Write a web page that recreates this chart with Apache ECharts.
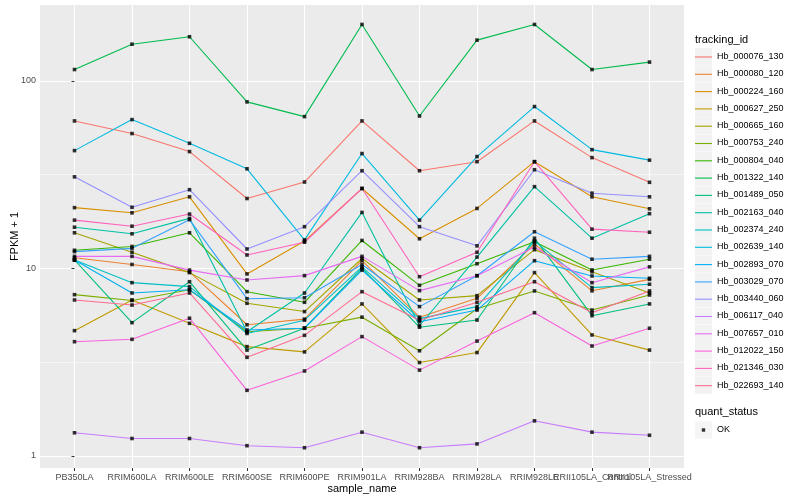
<!DOCTYPE html>
<html><head><meta charset="utf-8">
<script src="https://cdn.jsdelivr.net/npm/echarts@6/dist/echarts.min.js"></script>
<style>html,body{margin:0;padding:0;background:#fff}#c{width:800px;height:500px}</style>
</head><body><div id="c"></div>
<script>
const samples = ['PB350LA','RRIM600LA','RRIM600LE','RRIM600SE','RRIM600PE','RRIM901LA','RRIM928BA','RRIM928LA','RRIM928LE','RRII105LA_Control','RRII105LA_Stressed'];
const trackingIds = ['Hb_000076_130','Hb_000080_120','Hb_000224_160','Hb_000627_250','Hb_000665_160','Hb_000753_240','Hb_000804_040','Hb_001322_140','Hb_001489_050','Hb_002163_040','Hb_002374_240','Hb_002639_140','Hb_002893_070','Hb_003029_070','Hb_003440_060','Hb_006117_040','Hb_007657_010','Hb_012022_150','Hb_021346_030','Hb_022693_140'];

const hb_000076_130 = [61.2, 52.4, 42, 23.6, 28.9, 61.2, 33.2, 37.1, 61.2, 39, 28.8];
const hb_000080_120 = [11.4, 10.5, 9.6, 5.01, 5.37, 11.0, 5.5, 6.93, 13.5, 7.6, 8.75];
const hb_000224_160 = [21.1, 19.8, 24.1, 9.35, 14.0, 26.7, 14.4, 20.9, 37.1, 24.1, 20.8];
const hb_000627_250 = [4.66, 6.79, 5.1, 3.83, 3.59, 6.47, 3.15, 3.56, 9.5, 4.42, 3.67];
const hb_000665_160 = [15.5, 12.2, 9.5, 6.52, 5.89, 11.3, 6.79, 7.16, 12.6, 9.6, 7.4];
const hb_000753_240 = [7.25, 6.75, 7.7, 4.6, 4.8, 5.5, 3.64, 6.1, 7.59, 6.0, 7.22];
const hb_000804_040 = [12.5, 13.1, 15.5, 7.52, 6.6, 14.1, 8.13, 10.6, 13.9, 9.82, 11.2];
const hb_001322_140 = [115, 157, 172, 77.3, 64.5, 200, 65, 165, 200, 115, 126];
const hb_001489_050 = [11.1, 5.14, 8.5, 3.67, 4.8, 10.0, 4.86, 5.31, 14.5, 5.6, 6.47];
const hb_002163_040 = [16.6, 15.3, 18.5, 4.6, 7.4, 19.9, 4.95, 11.5, 27.3, 14.5, 19.6];
const hb_002374_240 = [11.1, 8.4, 8.0, 4.5, 5.3, 10.2, 5.4, 6.26, 14.0, 7.9, 8.24];
const hb_002639_140 = [42.5, 62.2, 46.5, 34, 14.2, 41, 18.1, 39.5, 73, 43, 37.8];
const hb_002893_070 = [11.1, 7.4, 7.7, 4.7, 4.8, 9.8, 5.2, 6.0, 11.0, 9.12, 8.87];
const hb_003029_070 = [12.3, 12.8, 18.2, 6.9, 6.98, 10.5, 6.26, 9.15, 15.7, 11.2, 11.6];
const hb_003440_060 = [30.8, 21.2, 26.3, 12.7, 16.7, 33.2, 16.7, 13.2, 33.6, 25.2, 24.1];
const hb_006117_040 = [1.33, 1.24, 1.24, 1.135, 1.107, 1.34, 1.107, 1.16, 1.54, 1.34, 1.29];
const hb_007657_010 = [11.6, 11.6, 9.8, 8.68, 9.16, 11.6, 7.62, 9.15, 13.0, 8.4, 10.2];
const hb_012022_150 = [4.07, 4.19, 5.43, 2.24, 2.84, 4.33, 2.87, 4.1, 5.81, 3.86, 4.8];
const hb_021346_030 = [18.1, 16.8, 19.5, 11.8, 13.8, 26.7, 9.04, 12.2, 37.1, 16.2, 15.6];
const hb_022693_140 = [6.79, 6.38, 7.4, 3.36, 4.4, 7.52, 5.3, 6.6, 8.5, 5.8, 7.59];

const seriesValues = [hb_000076_130, hb_000080_120, hb_000224_160, hb_000627_250, hb_000665_160, hb_000753_240, hb_000804_040, hb_001322_140, hb_001489_050, hb_002163_040, hb_002374_240, hb_002639_140, hb_002893_070, hb_003029_070, hb_003440_060, hb_006117_040, hb_007657_010, hb_012022_150, hb_021346_030, hb_022693_140];

const yTicks = [1, 10, 100];
const yMinorTicks = [3.1623, 31.623];

const palette = ['#F8766D','#EA8331','#D89000','#C09B00','#A3A500','#7CAE00','#39B600','#00BB4E','#00BF7D','#00C1A3','#00BFC4','#00BAE0','#00B0F6','#35A2FF','#9590FF','#C77CFF','#E76BF3','#FA62DB','#FF62BC','#FF6C91'];

const FONT = '"Liberation Sans", Arial, Helvetica, sans-serif';
const xIdx = samples.map((s, i) => i);
const Y_MIN = 0.863, Y_MAX = 254;
// ggplot discrete expansion: 0.6 units each side over a 644px panel -> 57.5px per unit
const PANEL_L = 40, PANEL_R = 116, PANEL_T = 5, PANEL_B = 32;
const UNIT = (800 - PANEL_L - PANEL_R) / (samples.length - 1 + 1.2);
const BAND_INSET = UNIT * 0.1;

const lineSeries = trackingIds.map((id, k) => ({
  name: id, type: 'line', silent: true, xAxisIndex: 0, yAxisIndex: 0,
  data: seriesValues[k].map((v, i) => [i, v]),
  showSymbol: false, symbol: 'none',
  lineStyle: { color: palette[k], width: 1.1 },
  itemStyle: { color: palette[k] },
  z: 2
}));
const pointSeries = {
  name: 'OK', type: 'scatter', silent: true, xAxisIndex: 0, yAxisIndex: 0,
  symbol: 'rect', symbolSize: 3.6,
  itemStyle: { color: '#000' },
  data: [].concat(...seriesValues.map(arr => arr.map((v, i) => [i, v]))),
  z: 3
};

const legendBase = {
  orient: 'vertical', left: 695, itemWidth: 17, itemHeight: 17, itemGap: 0.3,
  selectedMode: false, padding: 0,
  textStyle: { fontFamily: FONT, fontSize: 9, color: '#000' }
};
const linePath = 'path://M0,0M17,17M0,8.45L17,8.45L17,9.55L0,9.55Z';
const dotPath = 'path://M0,0M17,17M6.8,6.8L10.2,6.8L10.2,10.2L6.8,10.2Z';
const txt = (size, color) => ({ fontFamily: FONT, fontSize: size, color: color });

const option = {
  animation: false,
  backgroundColor: '#fff',
  title: [
    { text: 'tracking_id', left: 695, top: 34, padding: 0, textStyle: Object.assign(txt(11, '#000'), { fontWeight: 'normal' }) },
    { text: 'quant_status', left: 695, top: 406, padding: 0, textStyle: Object.assign(txt(11, '#000'), { fontWeight: 'normal' }) }
  ],
  legend: [
    Object.assign({}, legendBase, { top: 48, icon: 'rect', itemStyle: { color: '#F2F2F2', borderWidth: 0 }, data: trackingIds.slice() }),
    Object.assign({}, legendBase, { top: 48, icon: linePath, textStyle: txt(9, 'rgba(0,0,0,0)'),
      data: trackingIds.map((id, k) => ({ name: id, itemStyle: { color: palette[k], borderWidth: 0 } })) }),
    Object.assign({}, legendBase, { top: 421.5, icon: 'rect', itemStyle: { color: '#F2F2F2', borderWidth: 0 }, data: ['OK'] }),
    Object.assign({}, legendBase, { top: 421.5, icon: dotPath, textStyle: txt(9, 'rgba(0,0,0,0)'),
      data: [{ name: 'OK', itemStyle: { color: '#000', borderWidth: 0 } }] })
  ],
  grid: [
    { left: PANEL_L, right: PANEL_R, top: PANEL_T, bottom: PANEL_B, show: true, backgroundColor: '#EBEBEB', borderWidth: 0, containLabel: false, outerBoundsMode: 'none' },
    { left: PANEL_L + BAND_INSET * 1, right: PANEL_R + BAND_INSET * 1, top: PANEL_T, bottom: PANEL_B, show: false, containLabel: false, outerBoundsMode: 'none' }
  ],
  xAxis: [
    {
      gridIndex: 0, type: 'value', min: -0.6, max: 10.6,
      axisLine: { show: false },
      axisTick: { show: false, customValues: xIdx },
      axisLabel: { show: false, customValues: xIdx },
      splitLine: { show: true, lineStyle: { color: '#FFFFFF', width: 1.1 } },
      name: 'sample_name', nameLocation: 'middle', nameGap: 15, nameMoveOverlap: false,
      nameTextStyle: txt(11, '#000')
    },
    {
      gridIndex: 1, type: 'category', data: samples, boundaryGap: true, position: 'bottom',
      axisLine: { show: false },
      axisTick: { show: true, length: 3, alignWithLabel: true, interval: 0, lineStyle: { color: '#333333', width: 1 } },
      axisLabel: { interval: 0, hideOverlap: false, color: '#4D4D4D', fontSize: 9, fontFamily: FONT, margin: 5 },
      splitLine: { show: false }
    }
  ],
  yAxis: [
    {
      gridIndex: 0, type: 'log', logBase: 10, min: Y_MIN, max: Y_MAX,
      axisLine: { show: false },
      axisTick: { show: true, length: 3, lineStyle: { color: '#333333', width: 1 }, customValues: yTicks },
      axisLabel: { customValues: yTicks, color: '#4D4D4D', fontSize: 9, fontFamily: FONT, margin: 4, showMinLabel: true, showMaxLabel: true },
      splitLine: { show: true, lineStyle: { color: '#FFFFFF', width: 1.1 } },
      name: 'FPKM + 1', nameLocation: 'middle', nameGap: 20, nameMoveOverlap: false,
      nameTextStyle: txt(11, '#000')
    },
    {
      gridIndex: 0, type: 'log', logBase: 10, min: Y_MIN, max: Y_MAX, position: 'left',
      axisLine: { show: false },
      axisTick: { show: false, customValues: yMinorTicks },
      axisLabel: { show: false, customValues: yMinorTicks },
      splitLine: { show: true, lineStyle: { color: '#FFFFFF', width: 0.55 } }
    },
    {
      gridIndex: 1, type: 'log', logBase: 10, min: Y_MIN, max: Y_MAX, show: false,
      splitLine: { show: false }
    }
  ],
  series: lineSeries.concat([pointSeries])
};

const chart = echarts.init(document.getElementById('c'), null, { renderer: 'canvas' });
chart.setOption(option);
</script>
</body></html>
